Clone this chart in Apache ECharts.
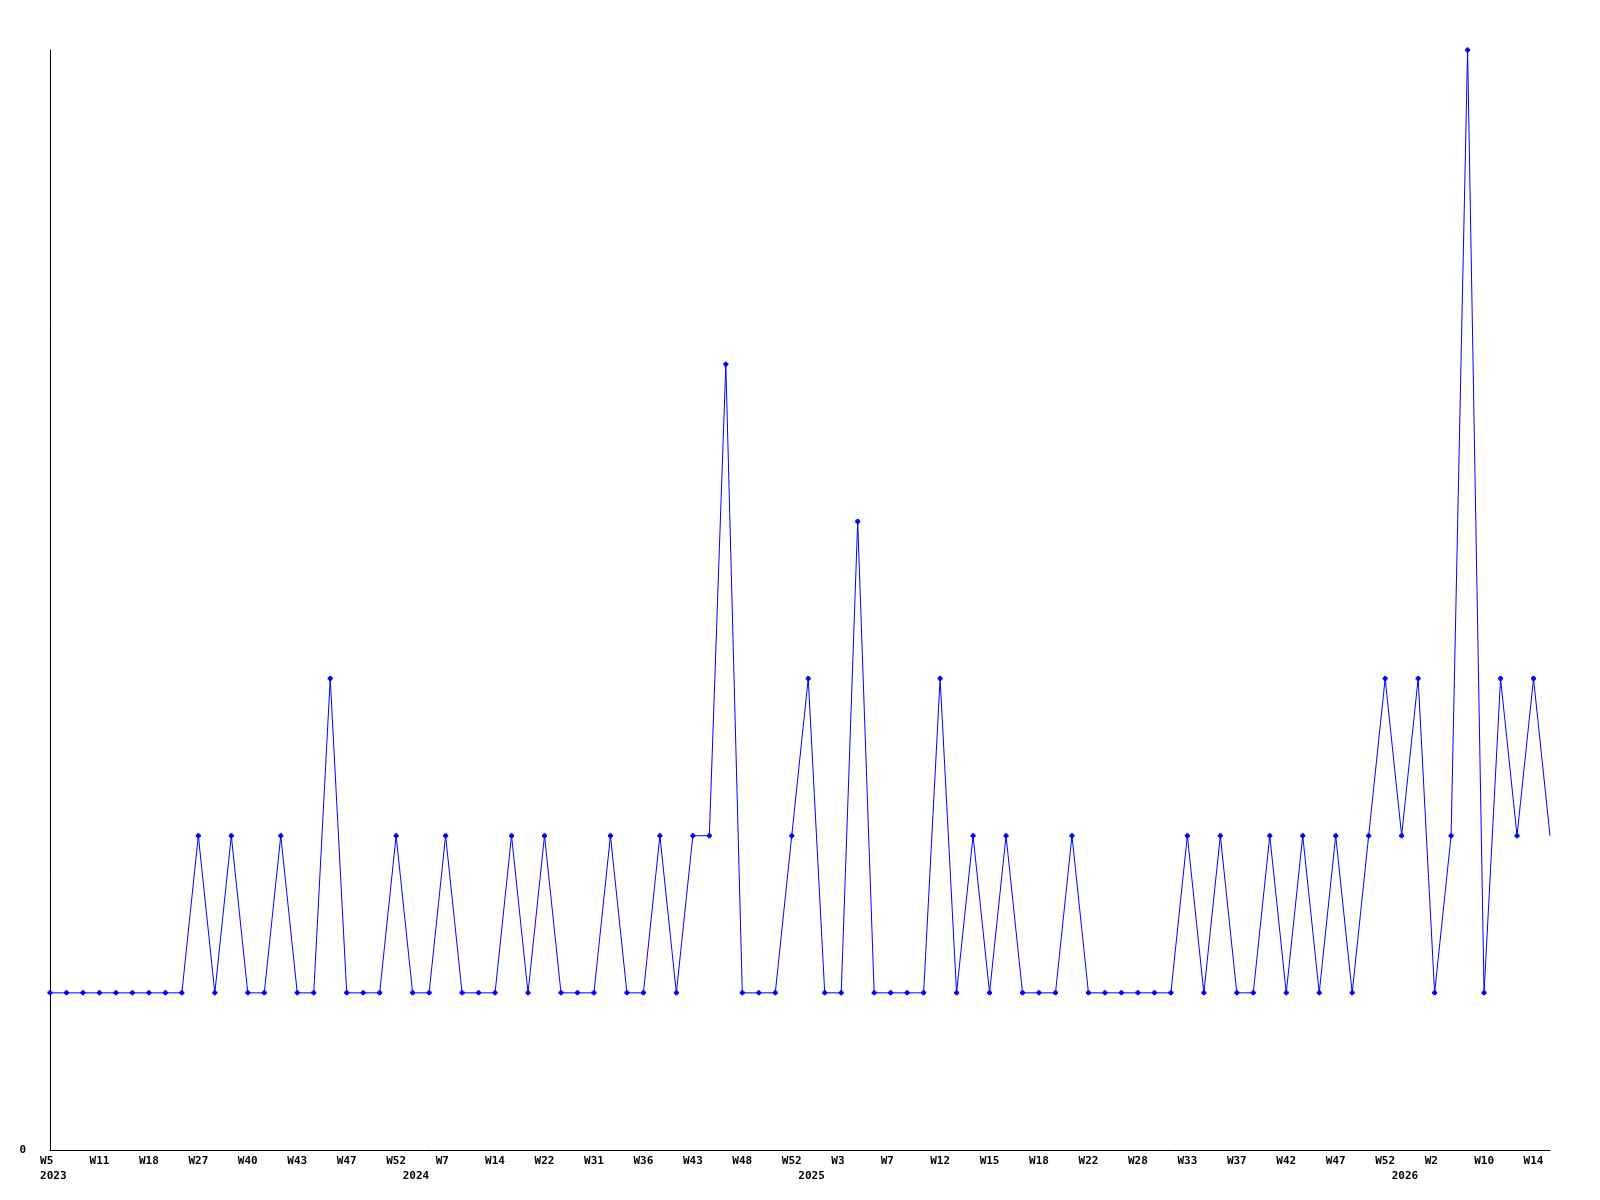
<!DOCTYPE html>
<html>
<head>
<meta charset="utf-8">
<script src="https://cdn.jsdelivr.net/npm/echarts@6/dist/echarts.min.js"></script>
<style>
html,body{margin:0;padding:0;background:#fff;}
#chart{width:1600px;height:1200px;}
</style>
</head>
<body>
<div id="chart"></div>
<script>
// Week labels per year (only weeks with data are present)
const weeks2023 = ['W5','W6','W9','W11','W13','W16','W18','W21','W24','W27','W31','W35','W40','W41','W42','W43','W44','W45','W47','W48','W50','W52'];
const weeks2024 = ['W1','W4','W7','W9','W11','W14','W17','W19','W22','W25','W28','W31','W33','W35','W36','W38','W40','W43','W44','W46','W48','W49','W50','W52'];
const weeks2025 = ['W1','W2','W3','W5','W6','W7','W9','W11','W12','W13','W14','W15','W16','W17','W18','W20','W21','W22','W24','W26','W28','W30','W31','W33','W34','W36','W37','W39','W40','W42','W44','W45','W47','W48','W50','W52'];
const weeks2026 = ['W0','W1','W2','W4','W6','W10','W11','W12','W14','W15'];
const years = ['2023','2024','2025','2026'];

const values = [
  1,1,1,1,1,1,1,1,1,2,1,2,1,1,2,1,1,3,1,1,1,2,
  1,1,2,1,1,1,2,1,2,1,1,1,2,1,1,2,1,2,2,5,1,1,1,2,
  3,1,1,4,1,1,1,1,3,1,2,1,2,1,1,1,2,1,1,1,1,1,1,2,1,2,1,1,2,1,2,1,2,1,2,3,
  2,3,1,2,7,1,3,2,3,2
];

const yAxisTicks = [0];

// Build category list
const weekGroups = [weeks2023, weeks2024, weeks2025, weeks2026];
const categories = [];
const weekOf = [];
const yearStart = {};
weekGroups.forEach((g, gi) => {
  yearStart[categories.length] = years[gi];
  g.forEach(w => { categories.push(years[gi] + '-' + w); weekOf.push(w); });
});
const lastIdx = values.length - 1;

const font = {fontFamily: 'DejaVu Sans Mono', fontWeight: 'bold', fontSize: 11, color: '#000'};

const chart = echarts.init(document.getElementById('chart'), null, {renderer: 'canvas'});
chart.setOption({
  animation: false,
  backgroundColor: '#fff',
  grid: {left: 50, right: 50, top: 50, bottom: 50, containLabel: false},
  xAxis: [
    {
      type: 'category',
      data: categories,
      boundaryGap: false,
      axisLine: {show: true, lineStyle: {color: '#000', width: 1}},
      axisTick: {show: false},
      splitLine: {show: false},
      axisLabel: Object.assign({
        interval: 2,
        margin: 6,
        formatter: (v, i) => { const w = weekOf[i]; return w.length < 3 ? w + ' ' : w; }
      }, font)
    },
    {
      type: 'category',
      data: categories,
      boundaryGap: false,
      position: 'bottom',
      axisLine: {show: false},
      axisTick: {show: false},
      splitLine: {show: false},
      axisLabel: Object.assign({
        interval: (i) => yearStart[i] !== undefined,
        margin: 21,
        formatter: (v, i) => yearStart[i] !== undefined ? ' ' + yearStart[i] : ''
      }, font)
    }
  ],
  yAxis: {
    type: 'value',
    min: 0,
    max: 7,
    interval: 7,
    axisLine: {show: true, lineStyle: {color: '#000', width: 1}},
    axisTick: {show: false},
    splitLine: {show: false},
    axisLabel: Object.assign({
      margin: 24,
      showMaxLabel: false,
      formatter: v => yAxisTicks.includes(v) ? String(v) : ''
    }, font)
  },
  series: [{
    type: 'line',
    data: values,
    xAxisIndex: 0,
    symbol: (val, p) => p.dataIndex === lastIdx ? 'none' : 'path://M1,0H3V1H4V3H3V4H1V3H0V1H1Z',
    symbolSize: 5,
    showAllSymbol: true,
    lineStyle: {color: '#0000ff', width: 1},
    itemStyle: {color: '#0000ff'},
    emphasis: {disabled: true}
  }]
});
</script>
</body>
</html>
